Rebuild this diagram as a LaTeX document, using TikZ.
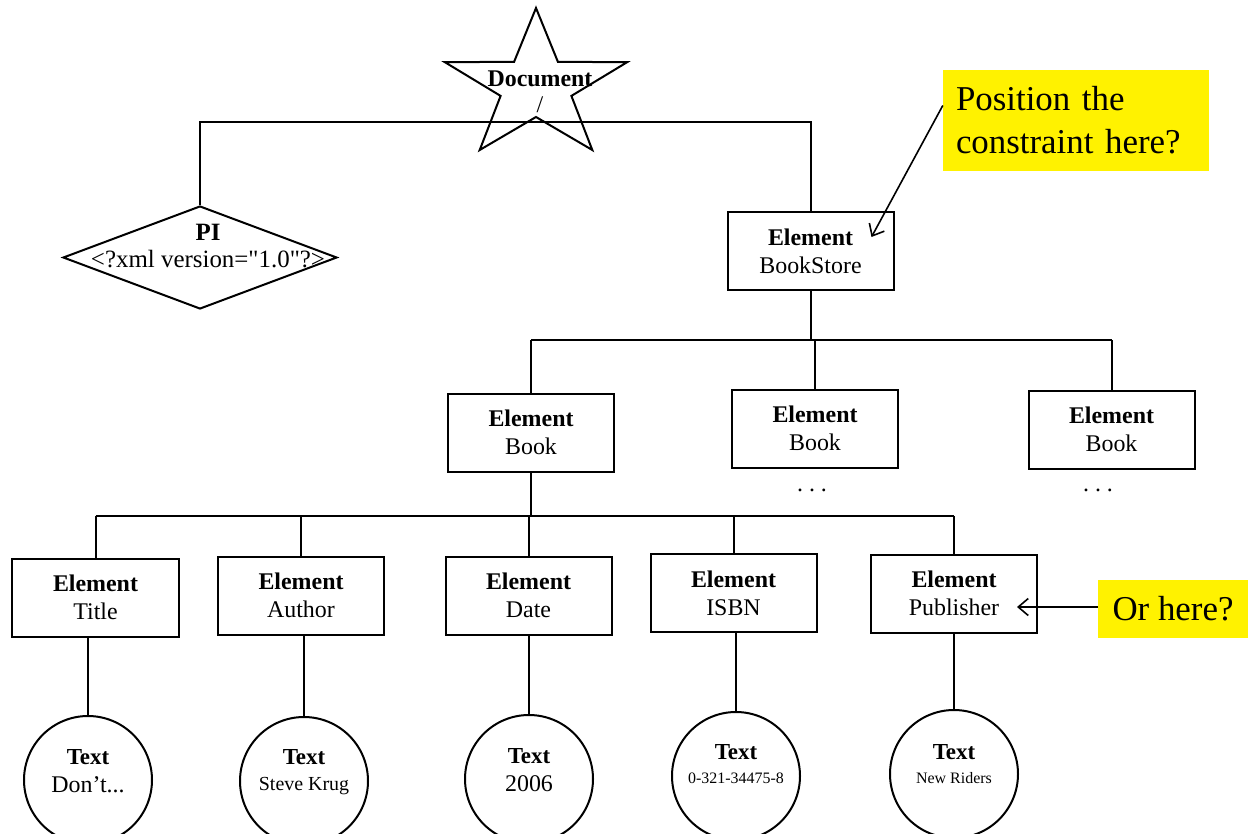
\documentclass[tikz,border=0pt]{standalone}
\usepackage{fontspec}
\setmainfont{Liberation Serif}[Ligatures=TeXOff]
\usetikzlibrary{shapes.geometric,arrows.meta}
\begin{document}
\begin{tikzpicture}[x=1bp,y=-1bp,
  ln/.style={line width=2bp},
  elem/.style={draw, line width=2bp, minimum width=166bp, minimum height=78bp, inner sep=0pt, align=center, font=\fontsize{24}{28}\selectfont},
  txtc/.style={draw, circle, line width=2bp, minimum size=128bp, inner sep=0pt},
  lbl/.style={align=center, inner sep=0pt},
  note/.style={fill=yellow, inner sep=0pt, font=\fontsize{35}{43}\selectfont},
  arr/.style={line width=1.6bp, -{Straight Barb[length=10bp,width=17bp]}}
]
\clip (0,0) rectangle (1248,834);
\fill[white] (0,0) rectangle (1248,834);

% root star
\draw[ln, line join=miter] (536,8) -- (557.9,61.8) -- (627.1,62.2) -- (571.4,95.9) -- (592.3,150) -- (536,117) -- (479.7,150) -- (500.6,95.9) -- (444.9,62.2) -- (514.1,61.8) -- cycle;
\node[lbl, font=\fontsize{24}{26}\selectfont] (doc) at (540,92) {\textbf{Document}\\/};

% PI diamond
\node[diamond, draw, line width=2bp, minimum width=274bp, minimum height=103bp, inner sep=0pt] (pi) at (200,257.5) {};
\node[lbl, font=\fontsize{25}{28}\selectfont] (pitext) at (208,246) {\textbf{PI}\\<?xml version="1.0"?>};

% elements
\node[elem] (bookstore) at (810.5,251) {\textbf{Element}\\BookStore};
\node[elem] (book1) at (531,432.5) {\textbf{Element}\\Book};
\node[elem] (book2) at (815,428.5) {\textbf{Element}\\Book};
\node[elem] (book3) at (1111.5,429.5) {\textbf{Element}\\Book};
\node[elem] (title) at (95.5,597.5) {\textbf{Element}\\Title};
\node[elem] (author) at (301,595.5) {\textbf{Element}\\Author};
\node[elem] (date) at (528.5,595.5) {\textbf{Element}\\Date};
\node[elem] (isbn) at (733.5,593) {\textbf{Element}\\ISBN};
\node[elem] (publisher) at (954,593.5) {\textbf{Element}\\Publisher};

\node[font=\fontsize{24}{28}\selectfont, inner sep=0pt] (dots2) at (812,490) {.\ .\ .};
\node[font=\fontsize{24}{28}\selectfont, inner sep=0pt] (dots3) at (1098,490) {.\ .\ .};

% text circles
\node[txtc] (c1) at (88,780) {};
\node[lbl, font=\fontsize{23}{28}\selectfont] (t1) at (88,771) {\textbf{Text}\\{\fontsize{24}{28}\selectfont Don’t...}};
\node[txtc] (c2) at (304,781) {};
\node[lbl, font=\fontsize{23}{26}\selectfont] (t2) at (304,772) {\textbf{Text}\\{\fontsize{20}{26}\selectfont Steve Krug}};
\node[txtc] (c3) at (529,779) {};
\node[lbl, font=\fontsize{23}{28}\selectfont] (t3) at (529,770) {\textbf{Text}\\{\fontsize{24}{28}\selectfont 2006}};
\node[txtc] (c4) at (736,776) {};
\node[lbl, font=\fontsize{23}{24}\selectfont] (t4) at (736,764) {\textbf{Text}\\{\fontsize{16}{24}\selectfont 0-321-34475-8}};
\node[txtc] (c5) at (954,774) {};
\node[lbl, font=\fontsize{23}{24}\selectfont] (t5) at (954,764) {\textbf{Text}\\{\fontsize{16}{24}\selectfont New Riders}};

% notes
\node[note, minimum width=266bp, minimum height=101bp, text width=240bp, align=left] (q1) at (1076,120.5) {Position the\\constraint here?};
\node[note, minimum width=150bp, minimum height=58bp] (q2) at (1173,609) {Or here?};

% tree connectors
\coordinate (rb) at (0,122);
\coordinate (b1) at (0,340);
\coordinate (b2) at (0,516);
\draw[ln] (pi.north) -- (pi.north |- rb) -- (bookstore.north |- rb) -- (bookstore.north);
\draw[ln] (bookstore.south) -- (bookstore.south |- b1);
\draw[ln] (book1.north |- b1) -- (book3.north |- b1);
\draw[ln] (book1.north) -- (book1.north |- b1);
\draw[ln] (book2.north) -- (book2.north |- b1);
\draw[ln] (book3.north) -- (book3.north |- b1);
\draw[ln] (book1.south) -- (book1.south |- b2);
\draw[ln] (title.north |- b2) -- (publisher.north |- b2);
\foreach \n in {title,author,date,isbn,publisher}
  \draw[ln] (\n.north) -- (\n.north |- b2);
\draw[ln] (c1.north) -- (c1.north |- title.south);
\draw[ln] (c2.north) -- (c2.north |- author.south);
\draw[ln] (c3.north) -- (c3.north |- date.south);
\draw[ln] (c4.north) -- (c4.north |- isbn.south);
\draw[ln] (c5.north) -- (c5.north |- publisher.south);

% arrows
\coordinate (a1) at ([xshift=-23bp,yshift=14bp]bookstore.east);
\draw[arr] ([yshift=15bp]q1.west) -- (a1);
\coordinate (a2) at ([xshift=-21bp,yshift=-13.5bp]publisher.east);
\draw[arr] (q2.west |- a2) -- (a2);
\end{tikzpicture}
\end{document}
